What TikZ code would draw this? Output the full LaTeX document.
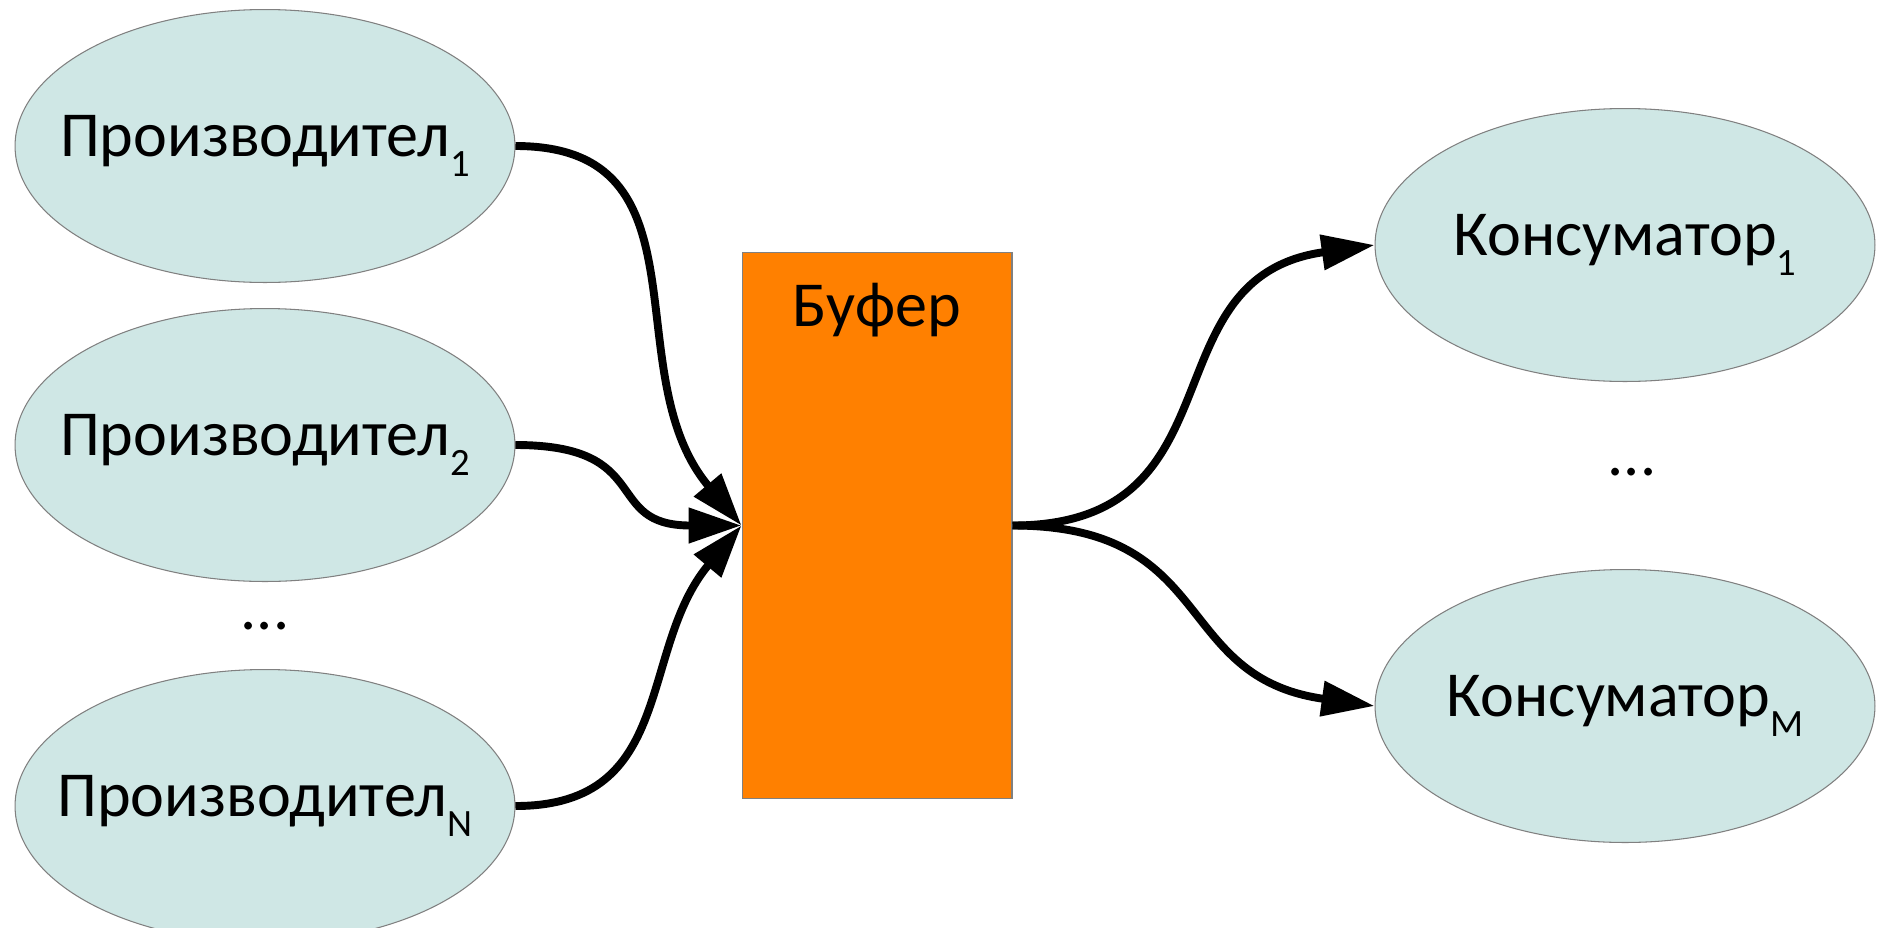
\documentclass[tikz,border=0pt]{standalone}
\usepackage{fontspec}
\setmainfont{Carlito}
\usetikzlibrary{positioning}
\usetikzlibrary{arrows.meta,shapes.geometric}
\usetikzlibrary{calc}
\definecolor{blobfill}{RGB}{207,231,229}
\definecolor{buforange}{RGB}{255,128,0}
\tikzstyle{actor}=[ellipse,fill=blobfill,draw=gray,line width=0.6pt,minimum width=10cm,minimum height=5.46cm,inner sep=0pt]
\tikzstyle{buffer}=[rectangle,fill=buforange,draw=gray,line width=0.6pt,minimum width=5.4cm,minimum height=10.94cm,inner sep=0pt]
\tikzstyle{edge}=[draw,line width=4.5pt,-{Triangle[length=1.06cm,width=0.68cm]}]
\tikzstyle{label}=[font=\fontsize{36.5}{40}\selectfont,inner sep=0pt]
\newcommand{\subidx}[1]{\raisebox{-0.3em}{\fontsize{22}{24}\selectfont #1}}

\begin{document}
\begin{tikzpicture}[x=0.02cm,y=-0.02cm]
    \useasboundingbox (0,0) rectangle (1883,927);

    \foreach \pos/\name/\idx in {{(265,146)/prod1/1}, {(265,445)/prod2/2}, {(265,806)/prodN/N}}
    {
        \node[actor] (\name) at \pos {};
        \node[label] (\name-text) at (\name) {Производител\subidx{\idx}};
    }

    \foreach \pos/\name/\idx in {{(1625,245)/cons1/1}, {(1625,706)/consM/M}}
    {
        \node[actor] (\name) at \pos {};
        \node[label] (\name-text) at (\name) {Консуматор\subidx{\idx}};
    }

    \node[buffer] (buf) at (877,525.5) {};
    \node[label, anchor=base] (buflabel) at ($(buf.north)+(0,75)$) {Буфер};

    \node[label] (dotsP) at (265,626) {...};
    \node[label] (dotsC) at (1632,472) {...};

    \foreach \source/\inang/\loose in {prod1/130/1.15, prod2/180/1.5, prodN/230/1.15}
        \path[edge] (\source.east) to[out=0,in=\inang,looseness=\loose] (buf.west);

    \foreach \dest/\inang in {cons1/188, consM/172}
        \path[edge] (buf.east) to[out=0,in=\inang,looseness=1.3] (\dest.west);

\end{tikzpicture}
\end{document}
